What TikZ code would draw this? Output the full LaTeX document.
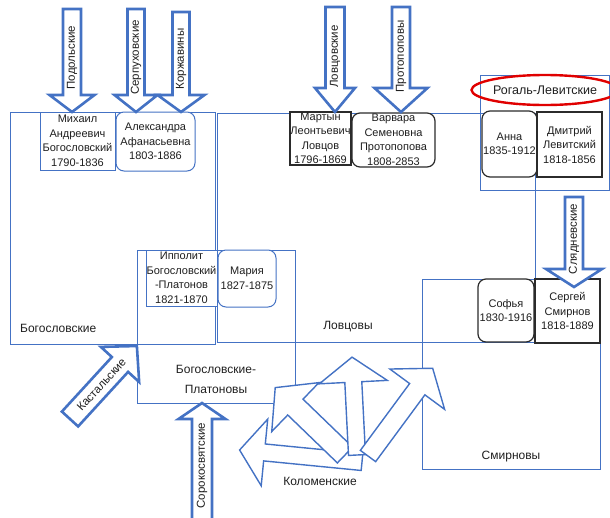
\documentclass[tikz,border=0pt]{standalone}
\usepackage{fontspec}
\setmainfont{Liberation Sans}
\usetikzlibrary{shapes.geometric}
\definecolor{obl}{HTML}{4472C4}
\definecolor{txt}{HTML}{1F1F1F}
\definecolor{dk}{HTML}{2B2B2B}
\definecolor{rd}{HTML}{E00000}
% #1 name, #2 base, #3 angle, #4 length, #5 shaft width, #6 head width, #7 head length, #8 text rotation, #9 text
\newcommand\barrow[9]{%
\begin{scope}[shift={#2},rotate=#3]
\draw[barrow] (0,-#5/2) -- ({#4-#7},-#5/2) -- ({#4-#7},-#6/2) -- (#4,0) -- ({#4-#7},#6/2) -- ({#4-#7},#5/2) -- (0,#5/2) -- cycle;
\node[arrowtext,rotate=#8] (#1) at ({#4/2-3},0) {#9};
\end{scope}}
\begin{document}
\begin{tikzpicture}[x=1pt,y=-1pt,
 groupbox/.style={draw=obl,line width=1pt,inner sep=0pt,outer sep=0pt,anchor=north west},
 pbox/.style={draw=obl,line width=1pt,fill=white,inner sep=0pt,outer sep=0pt,anchor=north west,align=center,text=txt,font=\fontsize{11}{14.5}\selectfont},
 dbox/.style={pbox,draw=dk,line width=1.2pt},
 rbox/.style={rounded corners=8pt},
 lab/.style={text=txt,font=\fontsize{12}{20}\selectfont,align=center,inner sep=0pt},
 barrow/.style={draw=obl,line width=2.6pt,fill=white},
 arrowtext/.style={text=txt,font=\fontsize{11.5}{12}\selectfont,inner sep=0pt},
]
\useasboundingbox (0,0) rectangle (610,517);
\clip (0,0) rectangle (610,517);
% family boxes
\node[groupbox,minimum width=205pt,minimum height=232pt] (bog) at (10,112) {};
\node[groupbox,minimum width=318pt,minimum height=229pt] (lov) at (217,113) {};
\node[groupbox,minimum width=158pt,minimum height=153pt] (bogpl) at (137,250) {};
\node[groupbox,minimum width=178pt,minimum height=190pt] (smir) at (422,279) {};
\node[groupbox,minimum width=129pt,minimum height=115pt] (rogal) at (480,75) {};
% persons
\node[pbox,minimum width=75pt,minimum height=58pt] (mikhail) at (40,112) {Михаил\\Андреевич\\Богословский\\1790-1836};
\node[pbox,rbox,minimum width=79pt,minimum height=59pt] (aleks) at (116,112) {Александра\\Афанасьевна\\1803-1886};
\node[dbox,minimum width=61pt,minimum height=53pt] (martyn) at (290,112) {Мартын\\Леонтьевич\\Ловцов\\1796-1869};
\node[dbox,rbox,minimum width=83pt,minimum height=54pt] (varvara) at (352,113) {Варвара\\Семеновна\\Протопопова\\1808-2853};
\node[dbox,rbox,minimum width=55pt,minimum height=66pt] (anna) at (482,111) {Анна\\1835-1912};
\node[dbox,minimum width=65pt,minimum height=65pt] (dmitry) at (537,112) {Дмитрий\\Левитский\\1818-1856};
\node[pbox,minimum width=71pt,minimum height=56pt] (ippolit) at (146,250) {Ипполит\\Богословский\\-Платонов\\1821-1870};
\node[pbox,rbox,minimum width=58pt,minimum height=57pt] (mariya) at (218,250) {Мария\\1827-1875};
\node[dbox,rbox,minimum width=56pt,minimum height=63pt] (sofya) at (478,279) {Софья\\1830-1916};
\node[dbox,minimum width=65pt,minimum height=64pt] (sergey) at (535,279) {Сергей\\Смирнов\\1818-1889};
% labels
\node[lab,anchor=west] (lbog) at (20,328) {Богословские};
\node[lab] (llov) at (348,327) {Ловцовы};
\node[lab] (lbogpl) at (216,379) {Богословские-\\Платоновы};
\node[lab] (lsmir) at (511,457) {Смирновы};
\node[lab] (lkol) at (320,481) {Коломенские};
\node[lab,draw=rd,line width=2.4pt,ellipse,inner sep=0pt,minimum width=127pt,minimum height=30pt,font=\fontsize{12.5}{14}\selectfont] (lrog) at (545,90) {Рогаль-Левитские};
% block arrows
\barrow{podol}{(72,9)}{-90}{103}{18}{45}{17}{90}{Подольские}
\barrow{serp}{(136,9)}{-90}{103}{17}{43}{17}{90}{Серпуховские}
\barrow{korzh}{(181,12)}{-90}{100}{17}{47}{17}{90}{Коржавины}
\barrow{lovsk}{(335,7)}{-90}{105}{19}{40}{24}{90}{Ловцовские}
\barrow{protop}{(401,7)}{-90}{105}{18}{53}{24}{90}{Протопоповы}
\barrow{slyad}{(574,197)}{-90}{90}{18}{56}{18}{90}{Слядневские}
\barrow{kast}{(70,419)}{47.5}{99}{22}{52}{25}{47.5}{Кастальские}
\barrow{sorok}{(202,522)}{90}{119}{20}{47}{16}{90}{Сорокосвятские}
\begin{scope}[barrow/.style={draw=obl,line width=1.4pt,fill=white}]
\barrow{kolA}{(362,462)}{174.4}{123}{17}{67}{25}{0}{}
\barrow{kolB}{(345,455)}{136}{97}{22}{68}{28}{0}{}
\barrow{kolC}{(357,455)}{92.9}{98}{17}{68}{25}{0}{}
\barrow{kolD}{(368,456)}{53.6}{109}{19}{68}{26}{0}{}
\end{scope}
\end{tikzpicture}
\end{document}
